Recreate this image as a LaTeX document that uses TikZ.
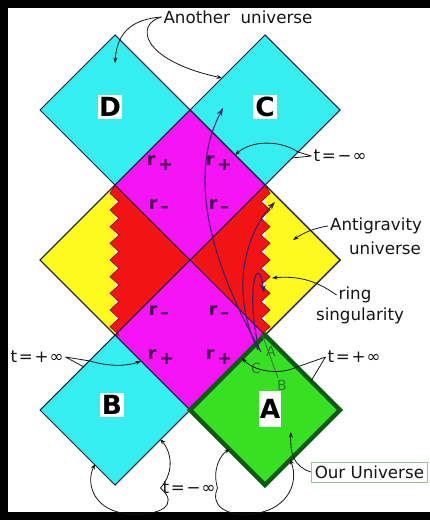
\documentclass[tikz,border=0pt]{standalone}
\usepackage{fontspec}
\setmainfont{DejaVu Sans}
\usepackage{tikz}
\usetikzlibrary{arrows.meta,calc}
\definecolor{Ink}{HTML}{151515}
\definecolor{Edge}{HTML}{1C1C3A}
\definecolor{Sky}{HTML}{36EEF0}
\definecolor{Rose}{HTML}{F414F4}
\definecolor{Hot}{HTML}{F21414}
\definecolor{Lemon}{HTML}{FFFA1E}
\definecolor{Leaf}{HTML}{38E024}
\definecolor{Forest}{HTML}{0F5A12}
\definecolor{Plum}{HTML}{3C0A46}
\definecolor{Orbit}{HTML}{3A1E6E}
\definecolor{Sage}{HTML}{9CC49C}
\definecolor{Moss}{HTML}{2E7D2E}
\tikzset{
  region/.style={draw=Edge,line width=0.6pt},
  letterbox/.style={fill=white,text=black,font=\fontsize{15}{15}\selectfont\bfseries,inner sep=0pt,minimum width=14pt,minimum height=14pt},
  note/.style={text=Ink,font=\fontsize{9.5}{11}\selectfont,inner sep=1pt},
  rlabel/.style={text=Plum,font=\fontsize{10}{11}\selectfont\bfseries,inner sep=0pt},
  greenlabel/.style={text=Moss,font=\fontsize{8}{9}\selectfont,inner sep=0pt},
  ptr/.style={draw=Ink,line width=0.45pt,-{Stealth[length=1.1mm,width=0.8mm]}},
  wedge/.style={draw=Ink,line width=0.45pt},
  traj/.style={draw=Orbit,line width=0.6pt,-{Stealth[length=1.6mm,width=1.1mm]}},
  tick/.style={draw=Moss,line width=0.5pt}
}
\newcommand{\rplus}{r\kern1.5pt\raisebox{-2.5pt}{+}}
\newcommand{\rminus}{r\kern1.5pt\raisebox{-2pt}{–}}
\newcommand{\teq}[1]{t\kern1pt=\kern1pt#1\kern0.5pt∞}

\begin{document}
\begin{tikzpicture}[x=0.02cm,y=-0.02cm]
  \useasboundingbox (0,0) rectangle (429,520);
  % frame
  \draw[line width=4.5pt] (432,4) -- (4,4) -- (4,516) -- (432,516);
  % regions
  \fill[Sky] (115,35) -- (190,110) -- (115,185) -- (40,110) -- cycle;
  \fill[Sky] (265,35) -- (340,110) -- (265,185) -- (190,110) -- cycle;
  \fill[Rose] (190,110) -- (265,185) -- (190,260) -- (115,185) -- cycle;
  \fill[Rose] (190,260) -- (265,335) -- (190,410) -- (115,335) -- cycle;
  \fill[Sky] (115,335) -- (190,410) -- (115,485) -- (40,410) -- cycle;
  \fill[Leaf] (265,335) -- (340,410) -- (265,485) -- (190,410) -- cycle;
  \fill[Lemon] (115,185) -- (40,260) -- (115,335) -- cycle;
  \fill[Lemon] (265,185) -- (340,260) -- (265,335) -- cycle;
  \fill[Hot] (115,185) \foreach \k in {1,...,9} { -- (110,{185+(\k-0.5)*16.667}) -- (119,{185+\k*16.667}) } -- (115,335) -- (190,260) -- cycle;
  \fill[Hot] (265,185) \foreach \k in {1,...,9} { -- (270,{185+(\k-0.5)*16.667}) -- (261,{185+\k*16.667}) } -- (265,335) -- (190,260) -- cycle;
  \draw[Hot!60!black,line width=0.4pt] (115,185) \foreach \k in {1,...,9} { -- (110,{185+(\k-0.5)*16.667}) -- (119,{185+\k*16.667}) } -- (115,335);
  \draw[Hot!60!black,line width=0.4pt] (265,185) \foreach \k in {1,...,9} { -- (270,{185+(\k-0.5)*16.667}) -- (261,{185+\k*16.667}) } -- (265,335);
  % outlines
  \draw[region] (115,35) -- (190,110) -- (115,185) -- (40,110) -- cycle;
  \draw[region] (265,35) -- (340,110) -- (265,185) -- (190,110) -- cycle;
  \draw[region] (115,185) -- (40,260) -- (115,335) (265,185) -- (340,260) -- (265,335);
  \draw[region] (190,110) -- (340,260) -- (190,410) -- (40,260) -- cycle;
  \draw[region] (115,185) -- (265,335) (265,185) -- (115,335);
  \draw[region] (115,335) -- (190,410) -- (115,485) -- (40,410) -- cycle;
  \draw[draw=Forest,line width=2.6pt] (265,335) -- (340,410) -- (265,485) -- (190,410) -- cycle;
  % universe letters
  \node[letterbox] (labD) at (110,107) {D};
  \node[letterbox] (labC) at (265,107) {C};
  \node[letterbox] (labB) at (112,405) {B};
  \node[letterbox,minimum width=12pt,minimum height=20pt] (labA) at (270,409) {A};
  % radii
  \node[rlabel] (rp1) at (160,163) {\rplus};
  \node[rlabel] (rp2) at (219,163) {\rplus};
  \node[rlabel] (rm1) at (159,206) {\rminus};
  \node[rlabel] (rm2) at (219,206) {\rminus};
  \node[rlabel] (rm3) at (159,312) {\rminus};
  \node[rlabel] (rm4) at (219,312) {\rminus};
  \node[rlabel] (rp3) at (161,357) {\rplus};
  \node[rlabel] (rp4) at (219,357) {\rplus};
  % geodesics
  \draw[tick] (262,334) -- (278,378);
  \node[greenlabel] (gA) at (271,351) {A};
  \node[greenlabel] (gC) at (256,368) {C};
  \node[greenlabel] (gB) at (282,385) {B};
  \draw[traj] (261,352) .. controls (215,270) and (185,180) .. (223,108);
  \draw[traj] (258,350) .. controls (233,300) and (240,240) .. (275,202);
  \draw[traj] (259,349) .. controls (245,290) and (258,250) .. (264,293);
  % labels and pointers
  \node[note] (another) at (238,17) {Another\ \ universe};
  \draw[ptr] (another.west) .. controls (135,19) and (117,30) .. (115,63);
  \draw[ptr] (another.west) .. controls (135,24) and (140,60) .. (222,78);
  \node[note] (tmTop) at (340,156) {\teq{−}};
  \coordinate (cR) at (298,152);
  \coordinate (cL) at (235,155);
  \draw[ptr] (cR) .. controls (280,140) and (252,140) .. (cL);
  \draw[wedge] (tmTop.west) -- (cR) (tmTop.west) -- (292,158);
  \node[note] (antiA) at (376,226) {Antigravity};
  \node[note] (antiB) at (385,248) {universe};
  \draw[ptr] (antiA.west) .. controls (315,228) and (305,232) .. (293,240);
  \node[note] (ringA) at (355,295) {ring};
  \node[note] (ringB) at (360,316) {singularity};
  \draw[ptr] (ringA.west) .. controls (322,285) and (305,275) .. (272,278);
  \node[note] (tpLeft) at (37,357) {\teq{+}};
  \coordinate (bL) at (90,361);
  \draw[wedge] (tpLeft.east) -- (bL) (tpLeft.east) -- (84,367);
  \draw[ptr] (bL) .. controls (110,367) and (128,366) .. (141,361);
  \node[note] (tpRight) at (354,357) {\teq{+}};
  \coordinate (aR) at (297,367);
  \draw[wedge] (tpRight.west) -- (aR) (tpRight.west) -- (311,381);
  \draw[ptr] (aR) .. controls (280,375) and (255,372) .. (242,358);
  \node[note] (tmBot) at (189,488) {\teq{−}};
  \draw[ptr] (tmBot.west) .. controls (176,470) and (170,450) .. (160,439);
  \draw[ptr] (tmBot.west) .. controls (180,505) and (160,516) .. (130,514) .. controls (95,512) and (85,485) .. (95,464);
  \draw[ptr] (tmBot.east) .. controls (212,470) and (220,455) .. (230,449);
  \draw[ptr] (tmBot.east) .. controls (210,505) and (225,516) .. (250,514) .. controls (285,512) and (300,485) .. (290,459);
  \node[note,draw=Sage,fill=white,line width=0.5pt,inner xsep=2pt,inner ysep=2pt,anchor=east] (ouruni) at (428,472) {Our Universe};
  \draw[ptr] (ouruni.west) .. controls (294,466) and (290,455) .. (291,432);
\end{tikzpicture}
\end{document}
